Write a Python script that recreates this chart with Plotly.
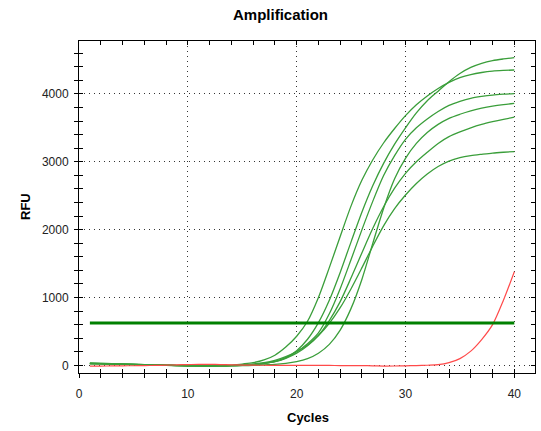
import plotly.graph_objects as go

cycles = list(range(1, 41))

# RFU values per cycle
green_a = [28, 25, 21, 17, 13, 9, 6, 2, -2, -5, -7, -8, -7, -4, 2, 12, 28, 55, 110, 215,
           385, 630, 960, 1370, 1820, 2260, 2650, 2980, 3260, 3500, 3720, 3900, 4040, 4180, 4300, 4390,
           4450, 4490, 4515, 4535]
green_b = [32, 28, 24, 20, 16, 12, 8, 4, 0, -3, -5, -6, -4, 2, 20, 40, 80, 150, 270, 430,
           650, 1000, 1440, 1900, 2350, 2730, 3030, 3280, 3490, 3680, 3840, 3970, 4080, 4170, 4240, 4285,
           4315, 4335, 4345, 4352]
green_c = [30, 26, 22, 18, 14, 10, 6, 2, -2, -5, -7, -8, -6, -3, 5, 15, 30, 60, 115, 200,
           320, 480, 760, 1130, 1560, 2000, 2420, 2800, 3090, 3330, 3500, 3630, 3740, 3830, 3890, 3935,
           3962, 3982, 3995, 4005]
green_d = [26, 23, 20, 16, 12, 9, 5, 1, -3, -6, -8, -9, -8, -6, -4, 0, 8, 15, 30, 55,
           100, 180, 310, 520, 840, 1270, 1800, 2320, 2750, 3050, 3270, 3430, 3550, 3640, 3700, 3750,
           3790, 3820, 3842, 3860]
green_e = [24, 21, 18, 15, 11, 8, 4, 0, -3, -6, -8, -9, -7, -3, 4, 14, 30, 55, 105, 180,
           290, 440, 660, 940, 1290, 1660, 2020, 2340, 2610, 2830, 3000, 3140, 3270, 3370, 3440, 3500,
           3550, 3590, 3625, 3656]
green_f = [34, 30, 26, 21, 17, 12, 8, 4, 0, -3, -5, -6, -4, 0, 8, 20, 40, 75, 130, 205,
           300, 440, 620, 850, 1130, 1440, 1760, 2060, 2310, 2510, 2680, 2820, 2930, 3010, 3060, 3090,
           3110, 3128, 3140, 3150]
red_neg = [-12, -10, -8, -6, -5, -3, 0, 3, 8, 12, 16, 15, 12, 8, 5, 3, 2, 1, 0, 0,
           0, -1, -1, -2, -2, -3, -6, -10, -9, -6, -3, 2, 10, 40, 100, 210,
           380, 600, 960, 1380]

threshold_value = 625
threshold_cycles = [1, 40]

green_series = [green_a, green_b, green_c, green_d, green_e, green_f]

FONT = "Liberation Sans Narrow, Arial Narrow, Liberation Sans, Arial, sans-serif"

fig = go.Figure()

for s in green_series:
    fig.add_trace(go.Scatter(x=cycles, y=s, mode="lines",
                             line=dict(color="#3a9e3a", width=1.3, shape="spline", smoothing=0.8),
                             hoverinfo="skip", showlegend=False))

fig.add_trace(go.Scatter(x=cycles, y=red_neg, mode="lines",
                         line=dict(color="#ff4a4a", width=1.2, shape="spline", smoothing=0.8),
                         hoverinfo="skip", showlegend=False))

fig.add_trace(go.Scatter(x=threshold_cycles, y=[threshold_value] * len(threshold_cycles), mode="lines",
                         line=dict(color="#008000", width=3),
                         hoverinfo="skip", showlegend=False))

# invisible trace to activate overlay axes (inside ticks)
fig.add_trace(go.Scatter(x=[None], y=[None], xaxis="x2", yaxis="y2", mode="lines",
                         showlegend=False, hoverinfo="skip"))

xr = [0, 41.9]
yr = [-112, 4779]

tickfont = dict(family=FONT, size=12, color="#222222")

fig.update_layout(
    width=541, height=431,
    margin=dict(l=79, r=6, t=41, b=58),
    paper_bgcolor="white", plot_bgcolor="white",
    showlegend=False,
    xaxis=dict(range=xr, tick0=0, dtick=10, ticks="outside", ticklen=4, tickcolor="black",
               showline=True, linecolor="black", linewidth=1, zeroline=False,
               showgrid=True, gridcolor="#333333", gridwidth=1, griddash="1px,4px",
               tickfont=tickfont, ticklabelstandoff=6,
               minor=dict(dtick=2, ticks="outside", ticklen=4, tickcolor="black", showgrid=False)),
    yaxis=dict(range=yr, tick0=0, dtick=1000, ticks="outside", ticklen=4, tickcolor="black",
               showline=True, linecolor="black", linewidth=1, zeroline=False,
               showgrid=True, gridcolor="#333333", gridwidth=1, griddash="1px,4px",
               tickfont=tickfont, ticklabelstandoff=3,
               minor=dict(dtick=200, ticks="outside", ticklen=4, tickcolor="black", showgrid=False)),
    xaxis2=dict(overlaying="x", anchor="y2", side="bottom", range=xr, tick0=0, dtick=10,
                ticks="inside", ticklen=4, tickcolor="black", mirror="ticks",
                showline=True, linecolor="black", linewidth=1,
                showticklabels=False, showgrid=False, zeroline=False,
                minor=dict(dtick=2, ticks="inside", ticklen=4, tickcolor="black", showgrid=False)),
    yaxis2=dict(overlaying="y", anchor="x2", side="left", range=yr, tick0=0, dtick=1000,
                ticks="inside", ticklen=4, tickcolor="black", mirror="ticks",
                showline=True, linecolor="black", linewidth=1,
                showticklabels=False, showgrid=False, zeroline=False,
                minor=dict(dtick=200, ticks="inside", ticklen=4, tickcolor="black", showgrid=False)),
    annotations=[
        dict(text="<b>Amplification</b>", xref="paper", yref="paper",
             x=(280 - 79) / (541 - 79 - 6), y=1 + (41 - 15) / (431 - 41 - 58),
             xanchor="center", yanchor="middle", showarrow=False,
             font=dict(family=FONT, size=15, color="black")),
        dict(text="<b>Cycles</b>", xref="paper", yref="paper",
             x=(308 - 79) / (541 - 79 - 6), y=-(418 - 373) / (431 - 41 - 58),
             xanchor="center", yanchor="middle", showarrow=False,
             font=dict(family=FONT, size=13, color="black")),
        dict(text="<b>RFU</b>", xref="paper", yref="paper",
             x=-(79 - 25) / (541 - 79 - 6), y=(373 - 207) / (431 - 41 - 58),
             xanchor="center", yanchor="middle", showarrow=False, textangle=-90,
             font=dict(family=FONT, size=13, color="black")),
    ],
)

fig.write_html("out.html")
